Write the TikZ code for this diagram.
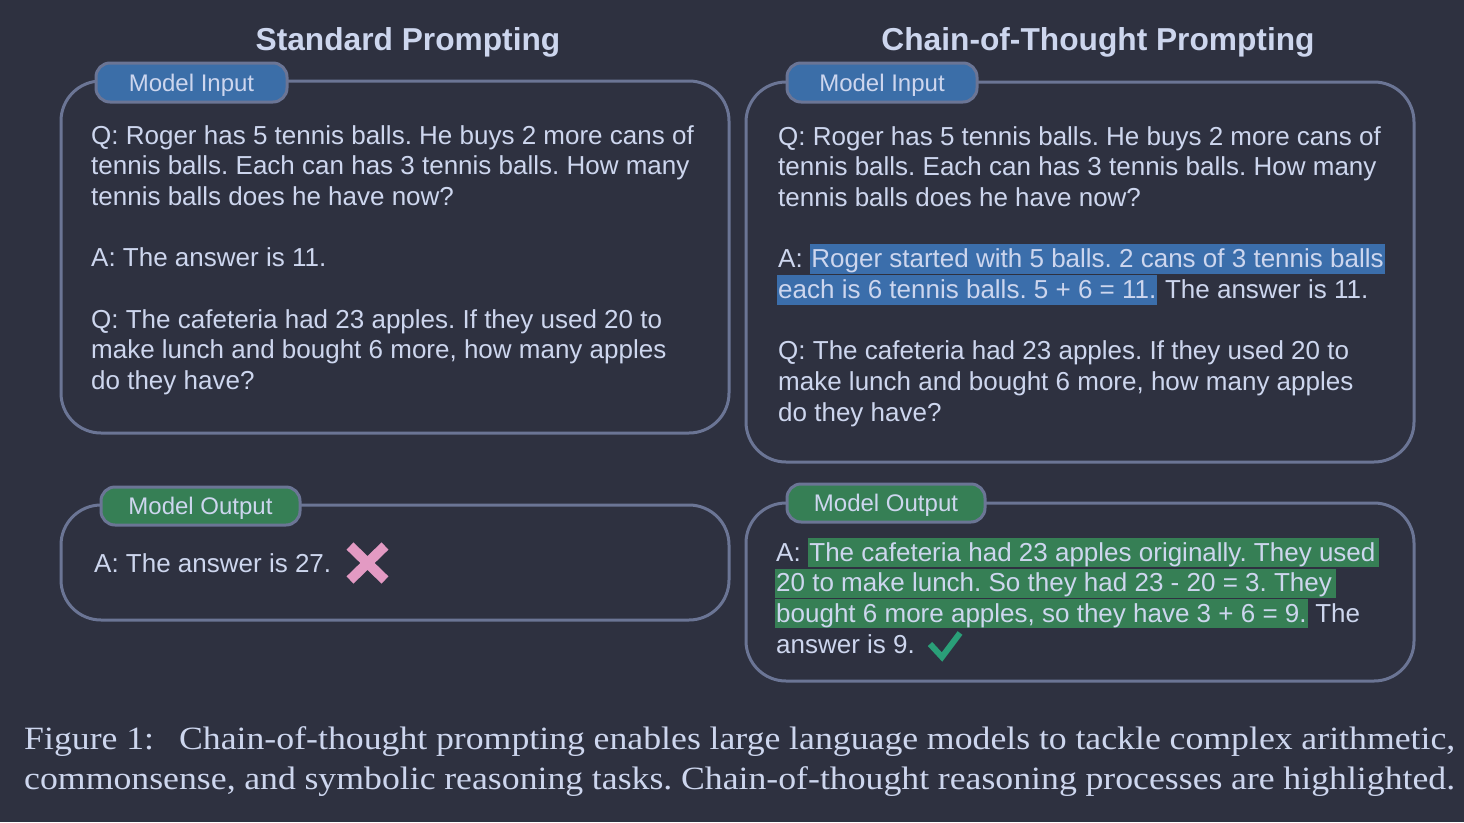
\documentclass[tikz,border=0pt]{standalone}
\usepackage{fontspec}
\setmainfont{Liberation Serif}
\newfontfamily\arialf{Liberation Sans}
\definecolor{bg}{HTML}{2E3140}
\definecolor{fg}{HTML}{CDD6EE}
\definecolor{bordc}{HTML}{6B7595}
\definecolor{tagblue}{HTML}{3B6EA8}
\definecolor{hlblue}{HTML}{3B6EAB}
\definecolor{taggreen}{HTML}{367F55}
\definecolor{crossc}{HTML}{E39AC3}
\definecolor{checkc}{HTML}{2A9F78}
\frenchspacing
\begin{document}
\begin{tikzpicture}[x=1pt,y=-1pt,
  txt/.style={anchor=base west, inner sep=0pt, text=fg, font=\arialf\fontsize{26}{30}\selectfont},
  hlb/.style={txt, fill=hlblue, text height=24pt, text depth=6pt, inner xsep=1pt},
  hlg/.style={txt, fill=taggreen, text height=23pt, text depth=6pt, inner xsep=1pt},
  panel/.style={draw=bordc, line width=3pt, rounded corners=40pt},
  tag/.style={draw=bordc, line width=3pt, rounded corners=14pt, inner sep=0pt, text=fg,
    font=\arialf\fontsize{24}{26}\selectfont, minimum height=39pt, text height=17pt, text depth=0pt},
  title/.style={text=fg, inner sep=0pt, anchor=base, font=\arialf\bfseries\fontsize{31.7}{34}\selectfont},
  captxt/.style={anchor=base west, inner sep=0pt, text=fg, font=\fontsize{32.5}{40}\selectfont}
]
\fill[bg] (0,0) rectangle (1464,822);
\useasboundingbox (0,0) rectangle (1464,822);

% titles
\node[title] (t1) at (408,50) {Standard Prompting};
\node[title] (t2) at (1098,50) {Chain-of-Thought Prompting};

% panels
\draw[panel] (61,81) rectangle (729,433);
\draw[panel] (746,82) rectangle (1414,462);
\draw[panel] (61,505) rectangle (729,620);
\draw[panel] (746,503) rectangle (1414,681);

% tags
\node[tag, fill=tagblue, minimum width=191pt] (tin1) at (191.5,82.5) {Model Input};
\node[tag, fill=tagblue, minimum width=190pt] (tin2) at (882,82.5) {Model Input};
\node[tag, fill=taggreen, minimum width=199pt, minimum height=38pt] (tout1) at (200.5,506) {Model Output};
\node[tag, fill=taggreen, minimum width=198pt, minimum height=38pt] (tout2) at (886,503) {Model Output};

% left input text
\node[txt] (a1) at (91,144) {Q: Roger has 5 tennis balls. He buys 2 more cans of};
\node[txt] (a2) at (91,174.7) {tennis balls. Each can has 3 tennis balls. How many};
\node[txt] (a3) at (91,205.4) {tennis balls does he have now?};
\node[txt] (a4) at (91,266.8) {A: The answer is 11.};
\node[txt] (a5) at (91,328.2) {Q: The cafeteria had 23 apples. If they used 20 to};
\node[txt] (a6) at (91,358.9) {make lunch and bought 6 more, how many apples};
\node[txt] (a7) at (91,389.6) {do they have?};

% right input text
\node[txt] (b1) at (778,145) {Q: Roger has 5 tennis balls. He buys 2 more cans of};
\node[txt] (b2) at (778,175.7) {tennis balls. Each can has 3 tennis balls. How many};
\node[txt] (b3) at (778,206.4) {tennis balls does he have now?};
\node[txt] (b4a) at (778,267.8) {A:\kern0.278em};
\node[hlb] (b4b) at (b4a.base east) {Roger started with 5 balls. 2 cans of 3 tennis balls};
\node[hlb] (b5a) at (777,298.5) {each is 6 tennis balls. 5 + 6 = 11.};
\node[txt] (b5b) at (b5a.base east) {\kern0.278em The answer is 11.};
\node[txt] (b6) at (778,359.9) {Q: The cafeteria had 23 apples. If they used 20 to};
\node[txt] (b7) at (778,390.6) {make lunch and bought 6 more, how many apples};
\node[txt] (b8) at (778,421.3) {do they have?};

% left output
\node[txt] (c1) at (94,572) {A: The answer is 27.};
\draw[crossc, line width=10pt] (350,546) -- (385,580) (385,546) -- (350,580);

% right output
\node[txt] (d1a) at (776,561) {A:\kern0.278em};
\node[hlg] (d1b) at (d1a.base east) {The cafeteria had 23 apples originally. They used\kern0.1em};
\node[hlg] (d2) at (775,591.7) {20 to make lunch. So they had 23 - 20 = 3. They\kern0.1em};
\node[hlg] (d3a) at (775,622.4) {bought 6 more apples, so they have 3 + 6 = 9.};
\node[txt] (d3b) at (d3a.base east) {\kern0.278em The};
\node[txt] (d4) at (776,653.1) {answer is 9.};
\draw[checkc, line width=6pt] (930,644) -- (942,657) -- (960,633);

% caption
\node[captxt] (cap1) at (24,749) {\scalebox{1.1}[1]{\makebox[1300.9pt][s]{Figure 1:\hspace{0.7em}Chain-of-thought prompting enables large language models to tackle complex arithmetic,}}};
\node[captxt] (cap2) at (24,789) {\scalebox{1.1}[1]{\makebox[1300.9pt][s]{commonsense, and symbolic reasoning tasks. Chain-of-thought reasoning processes are highlighted.}}};
\end{tikzpicture}
\end{document}
